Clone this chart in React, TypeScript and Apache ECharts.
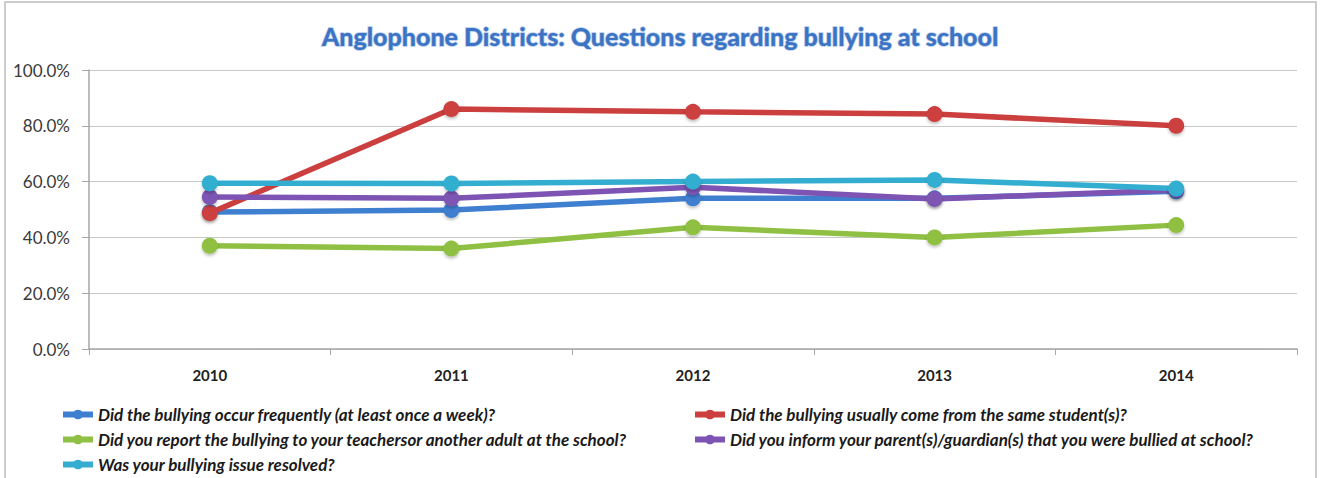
import React, { useEffect, useRef } from "react";
import * as echarts from "echarts";

const years = ["2010", "2011", "2012", "2013", "2014"];
const seriesNames = [
  "Did the bullying occur frequently (at least once a week)?",
  "Did the bullying usually come from the same student(s)?",
  "Did you report the bullying to your teachersor another adult at the school?",
  "Did you inform your parent(s)/guardian(s) that you were bullied at school?",
  "Was your bullying issue resolved?",
];
const frequent = [0.491, 0.498, 0.54, 0.54, 0.565];
const sameStudent = [0.487, 0.86, 0.85, 0.842, 0.8];
const reported = [0.37, 0.36, 0.436, 0.40, 0.444];
const informed = [0.545, 0.54, 0.58, 0.538, 0.57];
const resolved = [0.594, 0.593, 0.6, 0.606, 0.575];
const colors = ["#3f7fd0", "#cc3f3f", "#8fc043", "#7d54b3", "#33aed0"];
const yTicks = [0, 0.2, 0.4, 0.6, 0.8, 1.0];

export default function App() {
  const ref = useRef<HTMLDivElement>(null);
  useEffect(() => {
    if (!ref.current) return;
    const chart = echarts.init(ref.current, null, { renderer: "svg" });
    const allData = [frequent, sameStudent, reported, informed, resolved];
    const font = "Lato, 'Open Sans', sans-serif";
    const legendText = {
      fontSize: 17,
      fontStyle: "italic",
      fontWeight: "bold",
      color: "#1a1a1a",
      fontFamily: font,
    };
    chart.setOption({
      animation: false,
      backgroundColor: "#ffffff",
      textStyle: { fontFamily: font },
      title: {
        text: "Anglophone Districts: Questions regarding bullying at school",
        left: 655,
        textAlign: "center",
        top: 18,
        textStyle: {
          fontFamily: font,
          fontSize: 25,
          fontWeight: 900,
          color: "#3c74c4",
          textBorderColor: "#b9cdee",
          textBorderWidth: 1.5,
        },
      },
      graphic: [
        {
          type: "rect",
          shape: { x: 5, y: 2, width: 1311, height: 490 },
          style: { fill: "none", stroke: "#bdbdbd", lineWidth: 1.5 },
          silent: true,
        },
      ],
      grid: { left: 89, right: 28, top: 70, bottom: 129 },
      xAxis: {
        type: "category",
        data: years,
        boundaryGap: true,
        axisLine: { lineStyle: { color: "#a6a6a6", width: 1.5 } },
        axisTick: { show: true, length: 6, lineStyle: { color: "#a6a6a6" } },
        axisLabel: { color: "#222", fontWeight: "bold", fontSize: 15, margin: 18, fontFamily: font },
      },
      yAxis: {
        type: "value",
        min: yTicks[0],
        max: yTicks[yTicks.length - 1],
        interval: 0.2,
        axisLine: { show: true, lineStyle: { color: "#a6a6a6", width: 1.5 } },
        axisTick: { show: true, length: 7, lineStyle: { color: "#a6a6a6" } },
        splitLine: { lineStyle: { color: "#c8c8c8", width: 1.2 } },
        axisLabel: {
          color: "#3a3a3a",
          fontSize: 17,
          margin: 19,
          fontFamily: font,
          formatter: (v: number) => (v * 100).toFixed(1) + "%",
        },
      },
      legend: [
        {
          orient: "vertical",
          left: 55,
          top: 401,
          itemGap: 8,
          itemWidth: 30,
          itemHeight: 12,
          lineStyle: { width: 6 },
          data: [seriesNames[0], seriesNames[2], seriesNames[4]],
          textStyle: legendText,
        },
        {
          orient: "vertical",
          left: 687,
          top: 401,
          itemGap: 8,
          itemWidth: 30,
          itemHeight: 12,
          lineStyle: { width: 6 },
          data: [seriesNames[1], seriesNames[3]],
          textStyle: legendText,
        },
      ],
      series: seriesNames.map((name, i) => ({
        name,
        type: "line",
        data: allData[i],
        symbol: "circle",
        symbolSize: 16,
        lineStyle: { width: 5.5, color: colors[i] },
        itemStyle: { color: colors[i], shadowColor: "rgba(0,0,0,0.25)", shadowBlur: 3, shadowOffsetY: 2 },
        z: 2 + i,
      })),
    });
    return () => chart.dispose();
  }, []);
  return <div ref={ref} style={{ width: 1325, height: 478, position: "absolute", left: 0, top: 0 }} />;
}
